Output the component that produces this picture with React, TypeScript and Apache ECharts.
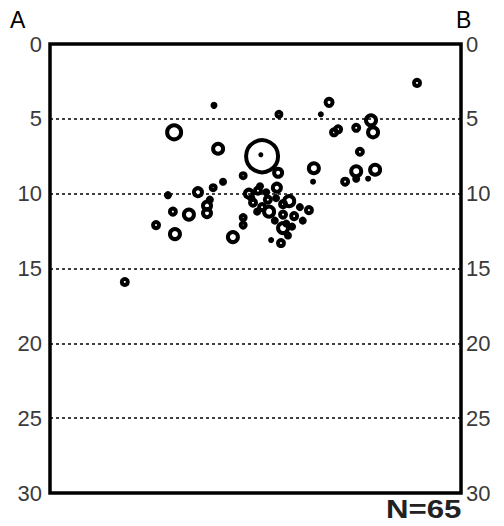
import React, { useEffect, useRef } from "react";
import * as echarts from "echarts";

const yTicks = [0, 5, 10, 15, 20, 25, 30];
const sideLabels = ["A", "B"];
const nLabel = "N=65";

// x position (0-100, A→B), depth value, circle diameter
const xs = [89.3, 39.9, 67.9, 65.9, 55.7, 30.2, 40.9, 51.6, 51.3, 78.1, 78.6, 70.1, 69.1, 74.5, 75.4, 64.2, 64.0, 74.5, 79.1, 71.8, 77.4, 74.5, 47.0, 55.5, 55.2, 48.4, 50.6, 53.0, 53.3, 58.2, 59.4, 56.7, 56.7, 47.0, 47.0, 53.8, 56.2, 63.0, 44.5, 42.1, 39.7, 36.0, 38.2, 38.2, 28.7, 29.9, 33.8, 25.8, 30.4, 18.2, 51.1, 49.4, 55.0, 51.6, 58.9, 56.7, 50.4, 54.7, 57.9, 52.6, 60.8, 38.9, 49.0, 57.5, 61.5];
const ys = [2.6, 4.1, 3.9, 4.7, 4.7, 5.9, 7.0, 7.5, 7.4, 5.1, 5.9, 5.7, 5.9, 5.6, 7.2, 8.3, 9.2, 8.5, 8.4, 9.2, 9.0, 9.0, 8.8, 8.6, 9.6, 10.0, 9.8, 10.4, 11.2, 10.5, 11.5, 11.4, 12.3, 11.6, 12.1, 13.1, 13.3, 11.1, 12.9, 9.2, 9.6, 9.9, 10.8, 11.3, 10.1, 11.2, 11.4, 12.1, 12.7, 15.9, 9.5, 10.6, 10.3, 10.9, 12.2, 10.7, 11.2, 11.8, 12.8, 9.9, 10.9, 10.4, 10.3, 12.0, 11.8];
const sizes = [10, 7, 11, 6, 9, 18, 14, 36, 5, 14, 14, 10, 10, 10, 10, 14, 6, 14, 14, 10, 6, 8, 9, 12, 12, 12, 10, 10, 14, 14, 10, 10, 14, 9, 9, 6, 10, 10, 14, 8, 9, 12, 12, 12, 8, 10, 14, 10, 14, 10, 8, 10, 8, 10, 8, 10, 8, 8, 8, 8, 8, 8, 8, 8, 8];

export default function App() {
  const ref = useRef<HTMLDivElement>(null);
  useEffect(() => {
    if (!ref.current) return;
    const chart = echarts.init(ref.current, null, { renderer: "svg" });
    const data = xs.map((x, i) => {
      const d = sizes[i];
      const solid = d < 9;
      return {
        value: [x, ys[i], d],
        symbolSize: solid ? d : d - 4,
        itemStyle: solid
          ? { color: "#000", borderWidth: 0, opacity: 1 }
          : { color: "rgba(0,0,0,0)", borderColor: "#000", borderWidth: 4, opacity: 1 },
      };
    });
    const labelStyle = {
      fontFamily: "Liberation Sans, Arial, sans-serif",
      fontSize: 22,
      color: "#3a3a3a",
    };
    chart.setOption({
      animation: false,
      backgroundColor: "#ffffff",
      grid: {
        left: 50,
        right: 43,
        top: 44,
        bottom: 33,
        show: true,
        borderColor: "#000",
        borderWidth: 3.5,
        backgroundColor: "transparent",
      },
      xAxis: {
        type: "value",
        min: 0,
        max: 100,
        axisLine: { show: false },
        axisTick: { show: false },
        axisLabel: { show: false },
        splitLine: { show: false },
      },
      yAxis: [
        {
          type: "value",
          inverse: true,
          min: 0,
          max: 30,
          interval: 5,
          position: "left",
          axisLine: { show: false },
          axisTick: { show: false },
          axisLabel: { ...labelStyle, margin: 8, formatter: (v: number) => (yTicks.includes(v) ? String(v) : "") },
          splitLine: {
            show: true,
            lineStyle: { color: "#000", type: [3, 3], width: 1.6 },
          },
        },
        {
          type: "value",
          inverse: true,
          min: 0,
          max: 30,
          interval: 5,
          position: "right",
          axisLine: { show: false },
          axisTick: { show: false },
          axisLabel: { ...labelStyle, margin: 5, formatter: (v: number) => (yTicks.includes(v) ? String(v) : "") },
          splitLine: { show: false },
        },
      ],
      graphic: [
        {
          type: "text",
          left: 10,
          top: 8,
          style: { text: sideLabels[0], font: "23px Liberation Sans, Arial, sans-serif", fill: "#000" },
        },
        {
          type: "text",
          left: 456,
          top: 8,
          style: { text: sideLabels[1], font: "23px Liberation Sans, Arial, sans-serif", fill: "#000" },
        },
        {
          type: "text",
          left: 386,
          top: 496,
          scaleX: 1.2,
          style: { text: nLabel, font: "bold 26px Liberation Sans, Arial, sans-serif", fill: "#222" },
        },
      ],
      series: [
        {
          type: "scatter",
          yAxisIndex: 0,
          data,
          symbol: "circle",
          itemStyle: { opacity: 1 },
          emphasis: { disabled: true },
        },
      ],
    });
    return () => chart.dispose();
  }, []);
  return <div ref={ref} style={{ position: "fixed", left: 0, top: 0, width: 504, height: 526 }} />;
}
